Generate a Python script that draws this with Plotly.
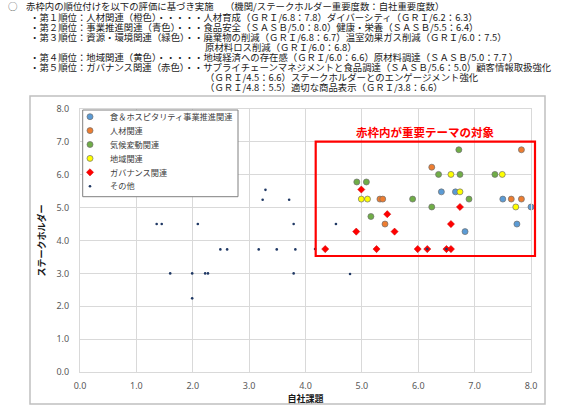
import plotly.graph_objects as go

# ---------------- data ----------------
series_names = ["食＆ホスピタリティ事業推進関連", "人材関連", "気候変動関連",
                "地域関連", "ガバナンス関連", "その他"]

blue_x = [6.41, 6.66, 7.50, 8.00, 7.75, 6.83]
blue_y = [5.48, 5.48, 5.26, 5.02, 4.50, 4.27]

orange_x = [7.83, 6.24, 5.32, 5.37, 7.65, 7.83, 5.41]
orange_y = [6.76, 6.23, 5.26, 5.26, 5.26, 5.26, 4.50]

green_x = [6.72, 6.36, 6.74, 7.36, 4.91, 5.08, 5.90, 6.90, 6.24, 5.16]
green_y = [6.76, 6.01, 6.01, 6.01, 5.78, 5.78, 5.26, 5.26, 5.02, 4.73]

yellow_x = [6.58, 7.49, 6.74, 4.99, 5.10, 7.73]
yellow_y = [6.01, 6.01, 5.48, 5.26, 5.26, 5.02]

red_x = [4.99, 6.74, 5.45, 6.58, 4.90, 5.58, 4.35, 5.26, 5.99, 6.16, 6.50, 6.58]
red_y = [5.55, 5.02, 4.80, 4.50, 4.27, 4.27, 3.74, 3.74, 3.74, 3.74, 3.74, 3.74]

other_x = [1.36, 1.45, 2.09, 3.79, 4.54,
           1.60, 1.99, 2.22, 2.27, 3.79, 4.79,
           1.99,
           2.49, 2.61, 3.17, 3.49, 3.82, 4.17, 6.16, 6.50,
           3.24, 3.71, 3.29]
other_y = [4.50, 4.50, 4.50, 4.50, 4.50,
           3.00, 3.00, 3.00, 3.00, 3.00, 2.98,
           2.24,
           3.73, 3.73, 3.73, 3.73, 3.73, 3.74, 3.74, 3.74,
           5.24, 5.24, 5.54]

x_ticks = [0, 1, 2, 3, 4, 5, 6, 7, 8]
y_ticks = [0, 1, 2, 3, 4, 5, 6, 7, 8]

header_lines = [
    "赤枠内の順位付けを以下の評価に基づき実施　 （機関/ステークホルダー重要度数：自社重要度数）",
    "・第１順位：人材関連（橙色）・・・・・人材育成（ＧＲＩ/6.8：7.8）ダイバーシティ（ＧＲＩ/6.2：6.3）",
    "・第２順位：事業推進関連（青色）・・・食品安全（ＳＡＳＢ/5.0：8.0）健康・栄養（ＳＡＳＢ/5.5：6.4）",
    "・第３順位：資源・環境関連（緑色）・・廃棄物の削減（ＧＲＩ/6.8：6.7）温室効果ガス削減（ＧＲＩ/6.0：7.5）",
    "原材料ロス削減（ＧＲＩ/6.0：6.8）",
    "・第４順位：地域関連（黄色）・・・・・地域経済への存在感（ＧＲＩ/6.0：6.6）原材料調達（ＳＡＳＢ/5.0：7.7 ）",
    "・第５順位：ガバナンス関連（赤色）・・サプライチェーンマネジメントと食品調達（ＳＡＳＢ/5.6：5.0）顧客情報取扱強化",
    "（ＧＲＩ/4.5：6.6）ステークホルダーとのエンゲージメント強化",
    "（ＧＲＩ/4.8：5.5）適切な商品表示（ＧＲＩ/3.8：6.6）",
]

# ---------------- layout geometry (pixels) ----------------
W, H = 563, 405
PL, PR, PT, PB = 80, 531, 109, 372   # plot area
pw, ph = PR - PL, PB - PT


def px_x(px):
    return (px - PL) / pw


def px_y(py):
    return (PB - py) / ph


JP = "Noto Sans CJK JP"

colors = ["#5B9BD5", "#ED7D31", "#70AD47", "#FFFF00", "#FF0000", "#1F3864"]
xs = [blue_x, orange_x, green_x, yellow_x, red_x, other_x]
ys = [blue_y, orange_y, green_y, yellow_y, red_y, other_y]

fig = go.Figure()
legend_ids = ["legend", "legend2", "legend3", "legend4", "legend5", "legend6"]
for i, name in enumerate(series_names):
    if i < 4:
        marker = dict(symbol="circle", size=6, color=colors[i],
                      line=dict(color="#6e6e6e", width=0.7))
    elif i == 4:
        marker = dict(symbol="diamond", size=5.5, color=colors[i],
                      line=dict(color="#d00000", width=0.5))
    else:
        marker = dict(symbol="circle", size=2.6, color=colors[i], line=dict(width=0))
    fig.add_trace(go.Scatter(x=xs[i], y=ys[i], mode="markers", name=name,
                             marker=marker, legend=legend_ids[i],
                             cliponaxis=False))

layout_legends = {}
for k, lid in enumerate(legend_ids):
    center = 116.7 + 13.9 * k
    top = center - 14.5
    layout_legends[lid] = dict(
        x=px_x(70), xanchor="left", y=px_y(top), yanchor="top",
        bgcolor="rgba(0,0,0,0)", borderwidth=0,
        font=dict(family=JP, size=8.2, color="#404040"),
    )

annotations = []
# header
annotations.append(dict(text="○", x=px_x(6), y=px_y(6.5), xref="paper", yref="paper",
                        xanchor="left", yanchor="middle", showarrow=False,
                        font=dict(family=JP, size=9.5, color="#555555")))
line_x = [25, 29, 29, 29, 204, 29, 29, 204, 204]
for i, (t, lx) in enumerate(zip(header_lines, line_x)):
    annotations.append(dict(text=t, x=px_x(lx), y=px_y(6.5 + 10.1 * i),
                            xref="paper", yref="paper", xanchor="left", yanchor="middle",
                            showarrow=False, borderpad=0,
                            font=dict(family=JP, size=9.4, color="#1a1a1a")))
# red box caption
annotations.append(dict(text="<b>赤枠内が重要テーマの対象</b>", x=px_x(425), y=px_y(131.7),
                        xref="paper", yref="paper", xanchor="center", yanchor="middle",
                        showarrow=False,
                        font=dict(family=JP, size=11.5, color="#FF0000")))

shapes = [
    # outer chart frame
    dict(type="rect", xref="paper", yref="paper",
         x0=px_x(30), x1=px_x(545), y0=px_y(404), y1=px_y(96),
         line=dict(color="#c0c0c0", width=1.5), layer="below"),
    # red box
    dict(type="rect", xref="paper", yref="paper",
         x0=px_x(315.7), x1=px_x(535), y0=px_y(256), y1=px_y(141.7),
         line=dict(color="#FF0000", width=2.2), layer="above"),
    # legend box
    dict(type="rect", xref="paper", yref="paper",
         x0=px_x(82.7), x1=px_x(238), y0=px_y(196.7), y1=px_y(110),
         line=dict(color="#808080", width=1), fillcolor="white", layer="above"),
]

axis_common = dict(
    range=[0, 8], showgrid=True, gridcolor="#d9d9d9", gridwidth=1,
    zeroline=False, showline=True, linecolor="#d9d9d9", linewidth=1, mirror=True,
    ticks="", tickformat=".1f", automargin=False,
    tickfont=dict(family="Noto Sans", size=9, color="#595959"),
)

fig.update_layout(
    width=W, height=H,
    margin=dict(l=PL, r=W - PR, t=PT, b=H - PB, pad=0, autoexpand=False),
    paper_bgcolor="white", plot_bgcolor="white",
    xaxis=dict(axis_common, tickvals=x_ticks, ticklabelstandoff=5,
               title=dict(text="<b>自社課題</b>", standoff=7,
                          font=dict(family=JP, size=9, color="#1a1a1a"))),
    yaxis=dict(axis_common, tickvals=y_ticks, ticklabelstandoff=8,
               title=dict(text="<b>ステークホルダー</b>", standoff=9,
                          font=dict(family=JP, size=9, color="#1a1a1a"))),
    annotations=annotations,
    shapes=shapes,
    showlegend=True,
    **layout_legends,
)

fig.write_html("out.html", config={"displayModeBar": False},
               post_script="document.body.style.margin='0';document.body.style.overflow='hidden';")
